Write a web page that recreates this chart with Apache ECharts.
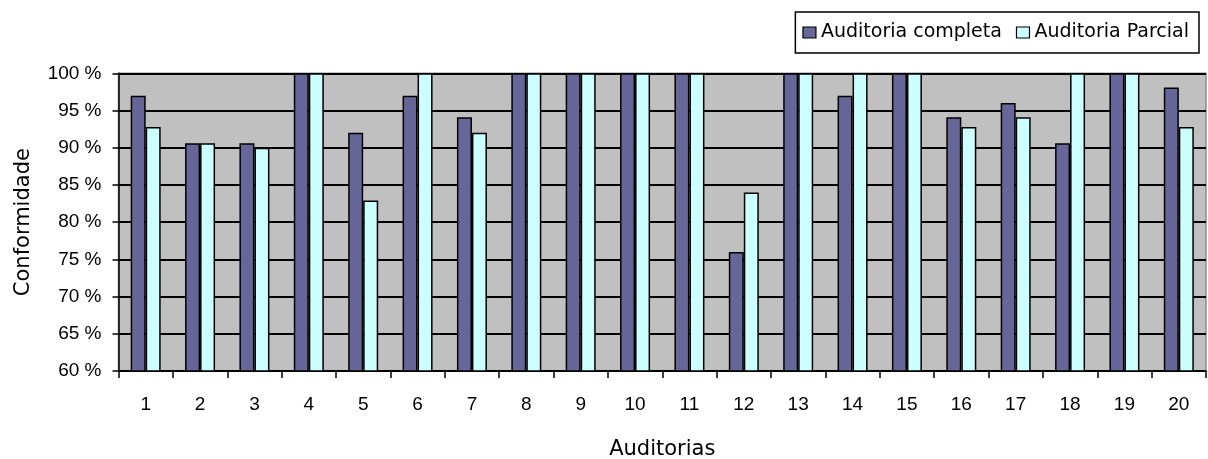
<!DOCTYPE html>
<html>
<head>
<meta charset="utf-8">
<title>Conformidade por auditoria</title>
<script src="https://cdn.jsdelivr.net/npm/echarts@6/dist/echarts.min.js"></script>
<style>
  html, body { margin: 0; padding: 0; background: #ffffff; }
  #chart { width: 1208px; height: 459px; }
</style>
</head>
<body>
<div id="chart"></div>
<script>
// Auditorias numeradas de 1 a 20
const categories = ['1','2','3','4','5','6','7','8','9','10','11','12','13','14','15','16','17','18','19','20'];

// Conformidade (%) por tipo de auditoria
const auditoriaCompleta = [97, 90.6, 90.6, 100, 92, 97, 94.1, 100, 100, 100, 100, 76, 100, 97, 100, 94.1, 96, 90.6, 100, 98.1];
const auditoriaParcial  = [92.8, 90.6, 90, 100, 82.9, 100, 92, 100, 100, 100, 100, 84, 100, 100, 100, 92.8, 94.1, 100, 100, 92.8];

// Escala do eixo vertical
const yMin = 60;
const yMax = 100;
const yStep = 5;

const chart = echarts.init(document.getElementById('chart'), null, { renderer: 'canvas' });

const numFont = 'Liberation Sans, Arial, sans-serif';
const wordFont = 'DejaVu Sans, Verdana, sans-serif';

chart.setOption({
  animation: false,
  backgroundColor: '#ffffff',
  grid: {
    left: 118.5,
    right: 2,
    top: 73.3,
    bottom: 88,
    outerBoundsMode: 'none',
    containLabel: false,
    show: true,
    backgroundColor: '#c0c0c0',
    borderColor: '#8c8c8c',
    borderWidth: 1.5
  },
  legend: {
    orient: 'horizontal',
    right: 9,
    top: 12,
    padding: [11, 10, 11, 7],
    itemGap: 14,
    itemWidth: 13,
    itemHeight: 11,
    itemStyle: { borderColor: '#000', borderWidth: 1.2 },
    backgroundColor: '#ffffff',
    borderColor: '#000000',
    borderWidth: 1.5,
    borderRadius: 0,
    textStyle: { fontFamily: wordFont, fontSize: 19, color: '#000' },
    data: [
      { name: 'Auditoria completa', icon: 'rect' },
      { name: 'Auditoria Parcial', icon: 'rect' }
    ]
  },
  xAxis: {
    type: 'category',
    data: categories,
    name: 'Auditorias',
    nameLocation: 'middle',
    nameGap: 68,
    nameTextStyle: { fontFamily: wordFont, fontSize: 21, color: '#000', verticalAlign: 'top' },
    axisLine: { show: true, lineStyle: { color: '#000', width: 1.5 } },
    axisTick: { show: true, length: 7, lineStyle: { color: '#000', width: 1.5 } },
    axisLabel: { margin: 24, fontFamily: numFont, fontSize: 19, color: '#000' },
    splitLine: { show: false }
  },
  yAxis: {
    type: 'value',
    min: yMin,
    max: yMax,
    interval: yStep,
    name: 'Conformidade',
    nameLocation: 'middle',
    nameRotate: 90,
    nameGap: 84,
    nameTextStyle: { fontFamily: wordFont, fontSize: 21, color: '#000' },
    axisLine: { show: true, lineStyle: { color: '#000', width: 1.5 } },
    axisTick: { show: true, length: 6, lineStyle: { color: '#000', width: 1.5 } },
    axisLabel: { margin: 17, fontFamily: numFont, fontSize: 19, color: '#000', formatter: '{value} %' },
    splitLine: { show: true, lineStyle: { color: '#000', width: 1.8 } }
  },
  series: [
    {
      name: 'Auditoria completa',
      type: 'bar',
      data: auditoriaCompleta,
      barWidth: 15,
      barGap: '0%',
      itemStyle: { color: '#666699', borderColor: '#000', borderWidth: 1.5 }
    },
    {
      name: 'Auditoria Parcial',
      type: 'bar',
      data: auditoriaParcial,
      barWidth: 15,
      barGap: '0%',
      itemStyle: { color: '#ccffff', borderColor: '#000', borderWidth: 1.5 }
    }
  ]
});
</script>
</body>
</html>
